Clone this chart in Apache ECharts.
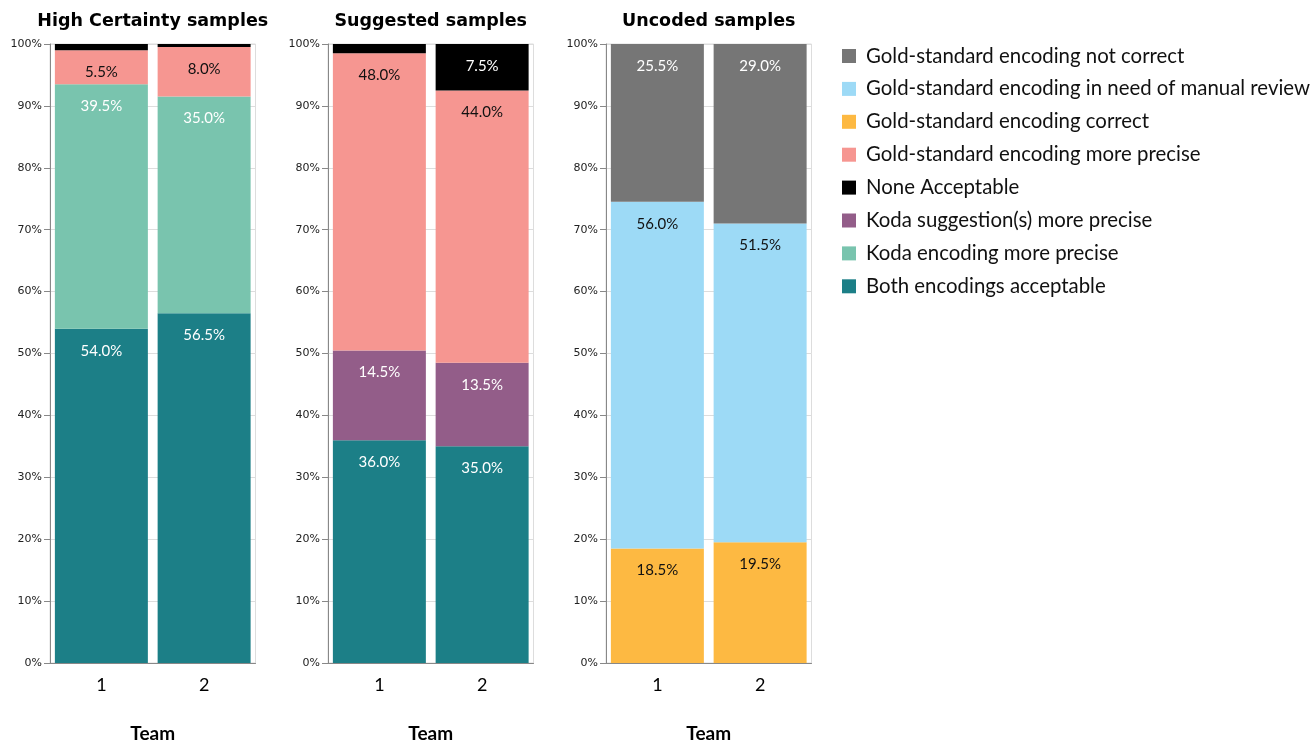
<!DOCTYPE html>
<html>
<head>
<meta charset="utf-8">
<title>Sample review outcomes by team</title>
<script src="https://cdn.jsdelivr.net/npm/echarts@6/dist/echarts.min.js"></script>
<style>
  html, body { margin: 0; padding: 0; background: #fff; }
  #chart { width: 1313px; height: 743px; }
</style>
</head>
<body>
<div id="chart"></div>
<script>
// Teams on the x axis of every panel
const teams = ['1', '2'];

// Panel titles
const panelTitles = ['High Certainty samples', 'Suggested samples', 'Uncoded samples'];

// Y axis ticks (percent of samples)
const yTicks = [0, 10, 20, 30, 40, 50, 60, 70, 80, 90, 100];

// Outcome categories, in legend order
const outcomes = [
  'Gold-standard encoding not correct',
  'Gold-standard encoding in need of manual review',
  'Gold-standard encoding correct',
  'Gold-standard encoding more precise',
  'None Acceptable',
  'Koda suggestion(s) more precise',
  'Koda encoding more precise',
  'Both encodings acceptable'
];
const outcomeColors = ['#767676', '#9ddaf6', '#fdb942', '#f69691', '#000000', '#935d89', '#79c4ae', '#1c7f87'];
const outcomeLabelColors = ['#ffffff', '#111111', '#111111', '#111111', '#ffffff', '#ffffff', '#ffffff', '#ffffff'];

// High Certainty samples (percent per team), bottom to top
const hcBoth = [54.0, 56.5];
const hcKodaEncoding = [39.5, 35.0];
const hcGoldPrecise = [5.5, 8.0];
const hcNone = [1.0, 0.5];

// Suggested samples (percent per team), bottom to top
const sgBoth = [36.0, 35.0];
const sgKodaSuggestion = [14.5, 13.5];
const sgGoldPrecise = [48.0, 44.0];
const sgNone = [1.5, 7.5];

// Uncoded samples (percent per team), bottom to top
const ucCorrect = [18.5, 19.5];
const ucReview = [56.0, 51.5];
const ucNotCorrect = [25.5, 29.0];

const panels = [
  { stack: [['Both encodings acceptable', hcBoth], ['Koda encoding more precise', hcKodaEncoding],
            ['Gold-standard encoding more precise', hcGoldPrecise], ['None Acceptable', hcNone]] },
  { stack: [['Both encodings acceptable', sgBoth], ['Koda suggestion(s) more precise', sgKodaSuggestion],
            ['Gold-standard encoding more precise', sgGoldPrecise], ['None Acceptable', sgNone]] },
  { stack: [['Gold-standard encoding correct', ucCorrect], ['Gold-standard encoding in need of manual review', ucReview],
            ['Gold-standard encoding not correct', ucNotCorrect]] }
];

const gridLefts = [50, 328, 606];
const gridWidth = 205.5;
const gridTop = 44;
const gridHeight = 619;

const labelFont = 'Lato, "Open Sans", sans-serif';
const tickFont = '"DejaVu Sans", Verdana, sans-serif';

const grids = [], xAxes = [], yAxes = [], titles = [], series = [];

panels.forEach((panel, i) => {
  grids.push({
    left: gridLefts[i], top: gridTop, width: gridWidth, height: gridHeight,
    outerBoundsMode: 'none', containLabel: false,
    show: true, borderColor: '#dddddd', borderWidth: 1, backgroundColor: 'transparent'
  });
  titles.push({
    text: panelTitles[i], padding: 0,
    left: gridLefts[i] + gridWidth / 2, top: 12, textAlign: 'center',
    textStyle: { fontFamily: tickFont, fontWeight: 'bold', fontSize: 17.5, color: '#000' }
  });
  xAxes.push({
    type: 'category', gridIndex: i, data: teams,
    axisLine: { lineStyle: { color: '#888888', width: 1 } },
    axisTick: { alignWithLabel: true, length: 6, lineStyle: { color: '#888888' } },
    axisLabel: { fontFamily: labelFont, fontSize: 18, color: '#000', margin: 13 },
    name: 'Team', nameLocation: 'middle', nameGap: 61,
    nameTextStyle: { fontFamily: labelFont, fontWeight: 'bold', fontSize: 19, color: '#000' }
  });
  yAxes.push({
    type: 'value', gridIndex: i, min: yTicks[0], max: yTicks[yTicks.length - 1],
    interval: yTicks[1] - yTicks[0],
    axisLine: { show: true, lineStyle: { color: '#888888', width: 1 } },
    axisTick: { show: true, length: 6, lineStyle: { color: '#888888' } },
    axisLabel: { fontFamily: tickFont, fontSize: 11, color: '#222', margin: 8, formatter: '{value}%' },
    splitLine: { show: true, lineStyle: { color: '#dddddd', width: 1 } }
  });
  panel.stack.forEach(([name, values]) => {
    const k = outcomes.indexOf(name);
    series.push({
      type: 'bar', name: name, xAxisIndex: i, yAxisIndex: i, stack: 'panel' + i,
      data: values, barCategoryGap: '9.5%',
      itemStyle: { color: outcomeColors[k] },
      label: {
        show: true, position: ['50%', 22], align: 'center', verticalAlign: 'middle',
        fontFamily: labelFont, fontSize: 15, color: outcomeLabelColors[k],
        formatter: p => (p.value >= 2 ? p.value.toFixed(1) + '%' : '')
      },
      emphasis: { disabled: true }
    });
  });
});

const chart = echarts.init(document.getElementById('chart'), null, { renderer: 'canvas' });
chart.setOption({
  animation: false,
  color: outcomeColors,
  title: titles,
  grid: grids,
  xAxis: xAxes,
  yAxis: yAxes,
  legend: {
    orient: 'vertical', left: 842, top: 46, padding: 0,
    itemWidth: 14, itemHeight: 14, itemGap: 12.9, icon: 'rect',
    data: outcomes.map((n, k) => ({ name: n, itemStyle: { color: outcomeColors[k] } })),
    textStyle: { fontFamily: labelFont, fontSize: 20.4, color: '#111', lineHeight: 20, padding: [0, 0, 0, 5] }
  },
  series: series
});
</script>
</body>
</html>
